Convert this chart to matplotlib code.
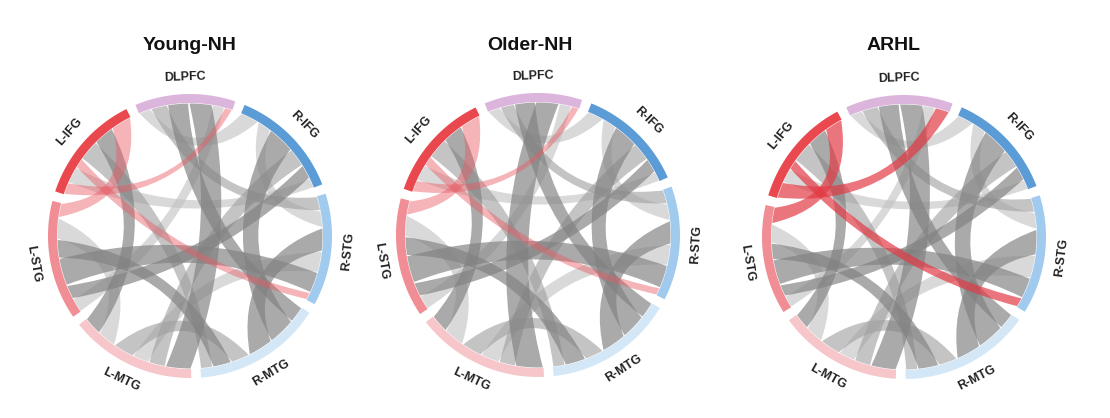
import numpy as np
import matplotlib.pyplot as plt
from matplotlib.path import Path
from matplotlib.patches import PathPatch, Polygon

plt.rcParams['font.family'] = ['Liberation Sans', 'DejaVu Sans']

# regions, clockwise from the top
regions = ["DLPFC", "R-IFG", "R-STG", "R-MTG", "L-MTG", "L-STG", "L-IFG"]
region_colors = ["#dcb5dc", "#5b9bd6", "#a0cbee", "#d3e7f7", "#f7c6ca", "#f08d95", "#e9484f"]
titles = ["Young-NH", "Older-NH", "ARHL"]

# width of each link end on the row region (columns in the same region order)
young_w = [
    [0, 5, 7, 9, 10, 5, 3],
    [8, 0, 6, 12, 8, 6, 4],
    [6, 7, 0, 10, 9, 9, 3],
    [7, 12, 11, 0, 8, 8, 5],
    [11, 7, 7, 9, 0, 8, 8],
    [6, 6, 12, 8, 9, 0, 6],
    [5, 7, 4, 9, 9, 9, 0],
]
older_w = [
    [0, 5, 6, 9, 10, 5, 3],
    [7, 0, 6, 11, 8, 6, 4],
    [6, 7, 0, 10, 9, 10, 3],
    [7, 11, 11, 0, 8, 9, 5],
    [12, 7, 8, 9, 0, 9, 8],
    [6, 6, 12, 8, 9, 0, 6],
    [5, 7, 4, 9, 9, 9, 0],
]
arhl_w = [
    [0, 5, 7, 9, 10, 5, 6],
    [7, 0, 6, 12, 8, 6, 4],
    [6, 7, 0, 11, 10, 9, 4],
    [7, 12, 11, 0, 8, 9, 5],
    [11, 7, 7, 9, 0, 8, 7],
    [5, 5, 11, 7, 8, 0, 7],
    [7, 6, 4, 9, 9, 8, 0],
]

# link shade, upper triangle: l light, m medium, d dark grey, r light red, R red
young_shade = ["lmddlr", "ldmdl", "dldr", "mdm", "ld", "r"]
older_shade = ["lmddlr", "ldmdl", "dldr", "mdm", "ld", "r"]
arhl_shade = ["lmddlR", "ldmdl", "dldR", "mdm", "ld", "R"]

panels = [(young_w, young_shade), (older_w, older_shade), (arhl_w, arhl_shade)]
centers = [(190, 236), (538, 235), (904, 237)]
title_dx = [0, -8, -10]

styles = {
    "l": ("#c0c0c0", 0.6),
    "m": ("#a0a0a0", 0.62),
    "d": ("#828282", 0.68),
    "r": ("#ea5a63", 0.45),
    "R": ("#e33a44", 0.7),
}
draw_order = "lmdrR"

R_OUT, RING, R_LINK, R_LABEL = 142, 9, 132.5, 159
SECTOR_GAP, LINK_GAP, TAPER = 4.0, 0.6, 0.25


def pt(cx, cy, r, th):
    t = np.radians(th)
    return np.array([cx + r * np.sin(t), cy - r * np.cos(t)])


def arc(cx, cy, r, a1, a2, n=20):
    th = np.linspace(a1, a2, n)
    return [pt(cx, cy, r, t) for t in th]


def bow(p0, p2, u):
    # control point of a quadratic curve between two rim points
    d = np.linalg.norm(p2 - p0)
    h = 0.38 * d * (1 - 0.8 * d / (2 * R_LINK))
    return (p0 + p2) / 2 + u * 2 * h


fig = plt.figure(figsize=(11.1, 4.18), dpi=100)
ax = fig.add_axes([0, 0, 1, 1])
ax.set_xlim(0, 1110)
ax.set_ylim(418, 0)
ax.axis("off")

n = len(regions)
for (W, shade), (cx, cy), title, tdx in zip(panels, centers, titles, title_dx):
    W = np.array(W, dtype=float)
    c = np.array([cx, cy])
    n_links = int((W > 0).sum())
    scale = (360 - n * SECTOR_GAP - n_links * LINK_GAP) / W.sum()
    spans = W.sum(axis=1) * scale + (W > 0).sum(axis=1) * LINK_GAP
    start = -2 - spans[0] / 2

    # position of every link end
    ends = {}
    sec = []
    a = start
    for i in range(n):
        sec.append((a, a + spans[i]))
        b = a + LINK_GAP / 2
        for j in range(n):
            if W[i, j] > 0:
                w = W[i, j] * scale
                ends[(i, j)] = (b, b + w)
                b += w + LINK_GAP
        a += spans[i] + SECTOR_GAP

    links = []
    for i in range(len(shade)):
        for k, s in enumerate(shade[i]):
            links.append((i, i + 1 + k, s))
    links.sort(key=lambda l: draw_order.index(l[2]))

    for i, j, s in links:
        a1, a2 = ends[(i, j)]
        b1, b2 = ends[(j, i)]
        pa = pt(cx, cy, R_LINK, (a1 + a2) / 2)
        pb = pt(cx, cy, R_LINK, (b1 + b2) / 2)
        u = np.array([-(pb - pa)[1], (pb - pa)[0]])
        u /= np.linalg.norm(u)
        if np.dot(u, c - (pa + pb) / 2) < 0:
            u = -u
        mid_ctrl = bow(pa, pb, u)
        verts = arc(cx, cy, R_LINK, a1, a2)
        codes = [Path.MOVETO] + [Path.LINETO] * (len(verts) - 1)
        p0, p2 = pt(cx, cy, R_LINK, a2), pt(cx, cy, R_LINK, b1)
        ctrl = (1 - TAPER) * bow(p0, p2, u) + TAPER * mid_ctrl
        verts += [ctrl, p2]
        codes += [Path.CURVE3] * 2
        bv = arc(cx, cy, R_LINK, b1, b2)[1:]
        verts += bv
        codes += [Path.LINETO] * len(bv)
        p0, p2 = pt(cx, cy, R_LINK, b2), pt(cx, cy, R_LINK, a1)
        ctrl = (1 - TAPER) * bow(p0, p2, u) + TAPER * mid_ctrl
        verts += [ctrl, p2, p2]
        codes += [Path.CURVE3, Path.CURVE3, Path.CLOSEPOLY]
        col, alpha = styles[s]
        ax.add_patch(PathPatch(Path(verts, codes), facecolor=col, edgecolor="none",
                               alpha=alpha, zorder=2))

    for i in range(n):
        s1, s2 = sec[i]
        ring = arc(cx, cy, R_OUT, s1, s2, 40) + arc(cx, cy, R_OUT - RING, s2, s1, 40)
        ax.add_patch(Polygon(ring, closed=True, facecolor=region_colors[i],
                             edgecolor="none", zorder=3))
        mid = ((s1 + s2) / 2) % 360
        rot = 180 - mid if 90 < mid < 270 else -mid
        lx, ly = pt(cx, cy, R_LABEL, mid)
        ax.text(lx, ly, regions[i], rotation=rot, rotation_mode="anchor",
                ha="center", va="center", fontsize=9, fontweight="bold",
                color="#222222", zorder=4)

    ax.text(cx + tdx, 45, title, ha="center", va="center", fontsize=14,
            fontweight="bold", color="#111111")

fig.savefig("out.png", dpi=100)
